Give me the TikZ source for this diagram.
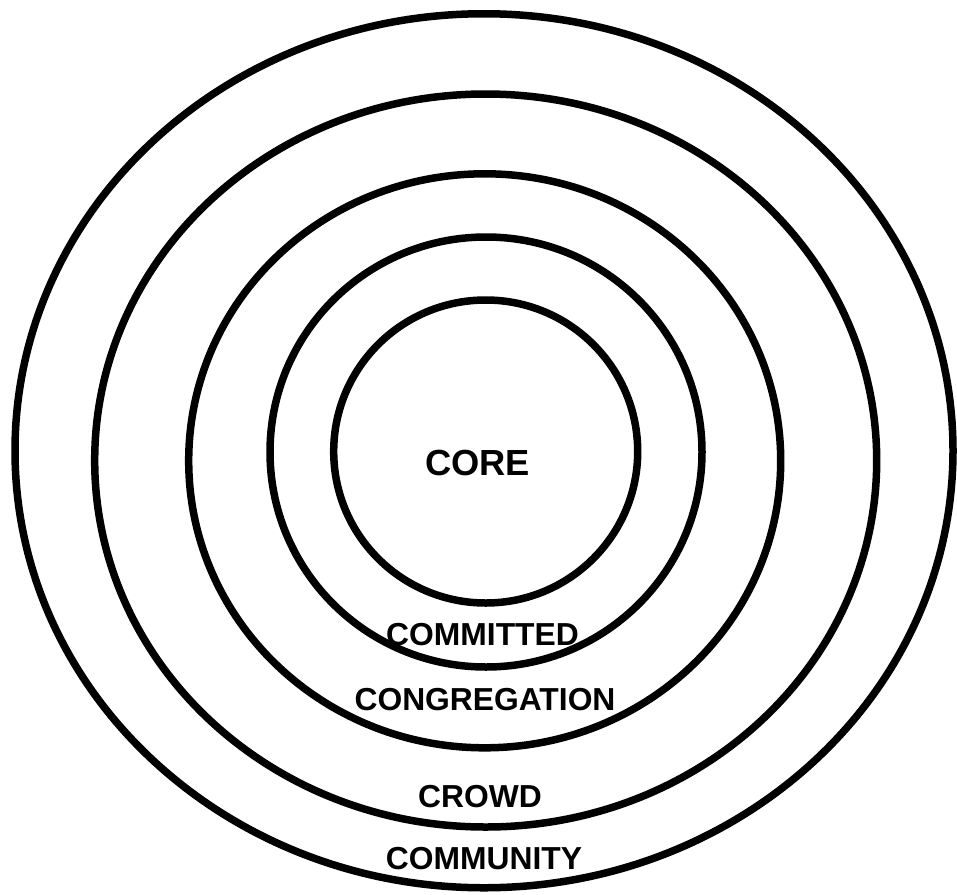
\documentclass[tikz,border=0pt]{standalone}
\usepackage{fontspec}
\setmainfont{Liberation Sans}
\begin{document}
\begin{tikzpicture}[x=1pt,y=-1pt,
  ring/.style={draw=black,line width=7.5pt},
  lbl/.style={anchor=base,inner sep=0pt,font=\fontsize{31.8}{38}\selectfont\bfseries},
  corelbl/.style={anchor=base,inner sep=0pt,font=\fontsize{36.3}{43}\selectfont\bfseries}]
\useasboundingbox (0,0) rectangle (957,894);
\draw[ring] (484,450.75) ellipse [x radius=469, y radius=437];
\draw[ring] (485.7,460.5) ellipse [x radius=391, y radius=366.5];
\draw[ring] (484.7,460.8) ellipse [x radius=296, y radius=287];
\draw[ring] (486,452) ellipse [x radius=216, y radius=215];
\draw[ring] (485.7,451.5) ellipse [x radius=152, y radius=151.5];
\node[corelbl] (core) at (477.5,475) {CORE};
\node[lbl] (committed) at (482.5,645) {COMMITTED};
\node[lbl] (congregation) at (485,710) {CONGREGATION};
\node[lbl] (crowd) at (480,807) {CROWD};
\node[lbl] (community) at (484,869) {COMMUNITY};
\end{tikzpicture}
\end{document}
